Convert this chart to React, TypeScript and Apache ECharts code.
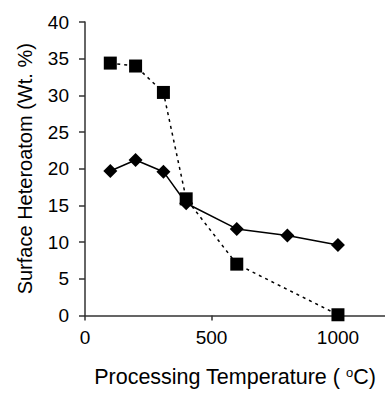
import React, { useEffect, useRef } from "react";
import * as echarts from "echarts";

const squareX = [100, 200, 310, 400, 600, 1000];
const squareY = [34.4, 34.0, 30.4, 15.9, 7.0, 0.1];
const diamondX = [100, 200, 310, 400, 600, 800, 1000];
const diamondY = [19.7, 21.2, 19.6, 15.3, 11.8, 10.9, 9.6];
const yTicks = [0, 5, 10, 15, 20, 25, 30, 35, 40];
const xTicks = [0, 500, 1000];

const FONT = "'Liberation Sans', Arial, sans-serif";
const AXIS = "#333";

export default function App() {
  const ref = useRef<HTMLDivElement>(null);
  useEffect(() => {
    if (!ref.current) return;
    document.body.style.margin = "0";
    const chart = echarts.init(ref.current, null, { renderer: "svg" });
    chart.setOption({
      animation: false,
      grid: { left: 85, top: 22, bottom: 70, right: 0, containLabel: false },
      xAxis: {
        type: "value",
        min: 0,
        max: 1186,
        interval: 500,
        name: "Processing Temperature ( {sup|o}C)",
        nameLocation: "middle",
        nameGap: 50,
        nameTextStyle: {
          fontFamily: FONT,
          fontSize: 21.5,
          color: "#000",
          rich: {
            sup: { fontSize: 13, fontFamily: FONT, color: "#000", padding: [0, 0, 10, 0] },
          },
        },
        axisLine: { show: true, lineStyle: { color: AXIS, width: 1.5 } },
        axisTick: {
          show: true,
          inside: false,
          length: 5,
          customValues: xTicks,
          lineStyle: { color: AXIS, width: 1.5 },
        },
        axisLabel: {
          fontFamily: FONT,
          fontSize: 19,
          color: "#000",
          margin: 12,
          customValues: xTicks,
          formatter: (v: number) => String(v),
        },
        splitLine: { show: false },
      },
      yAxis: {
        type: "value",
        min: 0,
        max: 40,
        interval: 5,
        name: "Surface Heteroatom (Wt. %)",
        nameLocation: "middle",
        nameGap: 50,
        nameTextStyle: { fontFamily: FONT, fontSize: 20, color: "#000" },
        axisLine: { show: true, lineStyle: { color: AXIS, width: 1.5 } },
        axisTick: {
          show: true,
          inside: false,
          length: 6,
          customValues: yTicks,
          lineStyle: { color: AXIS, width: 1.5 },
        },
        axisLabel: {
          fontFamily: FONT,
          fontSize: 19,
          color: "#000",
          margin: 16,
          customValues: yTicks,
          formatter: (v: number) => String(v),
        },
        splitLine: { show: false },
      },
      series: [
        {
          type: "line",
          data: squareX.map((x, i) => [x, squareY[i]]),
          symbol: "rect",
          symbolSize: 13,
          itemStyle: { color: "#000" },
          lineStyle: { color: "#000", width: 1.5, type: [3, 4] },
          z: 3,
        },
        {
          type: "line",
          data: diamondX.map((x, i) => [x, diamondY[i]]),
          symbol: "diamond",
          symbolSize: 14,
          itemStyle: { color: "#000" },
          lineStyle: { color: "#000", width: 1.5 },
          z: 4,
        },
      ],
    });
    return () => chart.dispose();
  }, []);
  return <div ref={ref} style={{ width: 385, height: 393, background: "#fff" }} />;
}
